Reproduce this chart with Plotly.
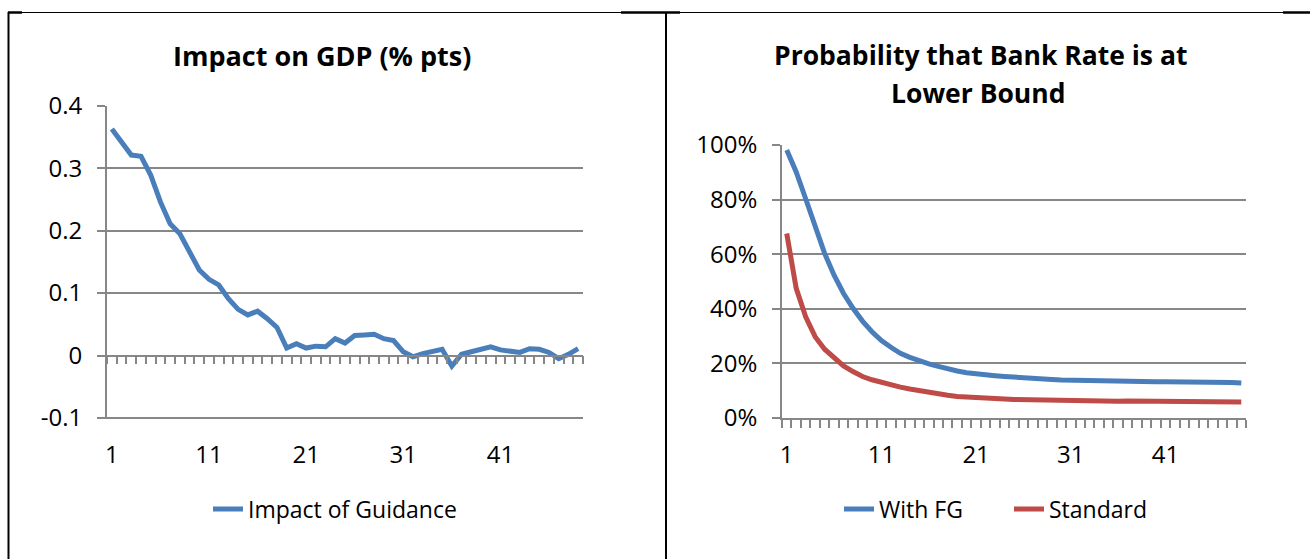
import plotly.graph_objects as go

W, H = 1310, 559

periods = list(range(1, 50))
impact_of_guidance = [
    0.3625, 0.342, 0.321, 0.319, 0.289, 0.246, 0.211, 0.195, 0.168, 0.137,
    0.122, 0.113, 0.091, 0.074, 0.065, 0.071, 0.059, 0.045, 0.012, 0.019,
    0.012, 0.015, 0.014, 0.027, 0.020, 0.032, 0.033, 0.034, 0.027, 0.024,
    0.006, -0.002, 0.003, 0.007, 0.010, -0.017, 0.002, 0.006, 0.011, 0.014,
    0.009, 0.006, 0.005, 0.011, 0.010, 0.005, -0.005, 0.002, 0.011,
]
with_fg = [
    0.982, 0.901, 0.803, 0.700, 0.603, 0.523, 0.456, 0.402, 0.355, 0.316,
    0.284, 0.259, 0.237, 0.222, 0.209, 0.198, 0.189, 0.179, 0.172, 0.166,
    0.161, 0.158, 0.155, 0.152, 0.149, 0.147, 0.145, 0.143, 0.141, 0.139,
    0.138, 0.137, 0.136, 0.135, 0.135, 0.134, 0.134, 0.134, 0.133, 0.133,
    0.133, 0.133, 0.132, 0.132, 0.132, 0.131, 0.131, 0.130, 0.128,
]
standard = [
    0.676, 0.475, 0.371, 0.298, 0.252, 0.219, 0.191, 0.170, 0.152, 0.140,
    0.130, 0.120, 0.113, 0.106, 0.100, 0.094, 0.086, 0.083, 0.079, 0.078,
    0.075, 0.074, 0.072, 0.070, 0.068, 0.067, 0.066, 0.065, 0.064, 0.063,
    0.063, 0.062, 0.061, 0.061, 0.062, 0.061, 0.062, 0.062, 0.063, 0.063,
    0.063, 0.062, 0.062, 0.062, 0.062, 0.061, 0.061, 0.060, 0.059,
]
x_tick_vals = [1, 11, 21, 31, 41]
x_tick_text = ["1", "11", "21", "31", "41"]
left_y_ticks = [-0.1, 0, 0.1, 0.2, 0.3, 0.4]
left_y_text = ["-0.1", "0", "0.1", "0.2", "0.3", "0.4"]
right_y_ticks = [0, 0.2, 0.4, 0.6, 0.8, 1.0]
right_y_text = ["0%", "20%", "40%", "60%", "80%", "100%"]

BLUE = "#4A7EBB"
RED = "#BE4B48"
GRID = "#878787"
FONT = "Open Sans"


def px(x):
    return x / W


def py(y):
    return 1 - y / H


fig = go.Figure()
fig.add_trace(go.Scatter(x=periods, y=impact_of_guidance, mode="lines",
                         name="Impact of Guidance", line=dict(color=BLUE, width=5),
                         xaxis="x", yaxis="y", legend="legend"))
fig.add_trace(go.Scatter(x=periods, y=with_fg, mode="lines", name="With FG",
                         line=dict(color=BLUE, width=5), xaxis="x2", yaxis="y2",
                         legend="legend2"))
fig.add_trace(go.Scatter(x=periods, y=standard, mode="lines", name="Standard",
                         line=dict(color=RED, width=5), xaxis="x2", yaxis="y2",
                         legend="legend2"))

minor_vals = [p - 0.5 for p in periods] + [periods[-1] + 0.5]

# left plot: y range padded a hair below -0.1 so the -0.1 gridline is kept
left_yr = [-0.102, 0.4]
left_top, left_bot = 105.7, 418.0
left_bot_px = left_bot + (left_bot - left_top) * 0.002 / 0.5
left_dom_x = [px(107), px(583)]
left_dom_y = [py(left_bot_px), py(left_top)]
right_dom_x = [px(782), px(1246)]
right_dom_y = [py(418), py(145)]
zero_pos = left_dom_y[0] + (0 - left_yr[0]) / (left_yr[1] - left_yr[0]) * (
    left_dom_y[1] - left_dom_y[0])

tickfont = dict(family=FONT, size=24, color="black")
xr = [0.5, 49.5]
minor_ticks = dict(tickmode="array", tickvals=minor_vals, ticks="outside",
                   ticklen=8, tickcolor=GRID, tickwidth=1.5, showgrid=False)

common_x = dict(range=xr, tickmode="array", tickvals=x_tick_vals, ticktext=x_tick_text,
                showgrid=False, zeroline=False, ticks="", tickfont=tickfont,
                showline=True, linecolor=GRID, linewidth=1.7, minor=minor_ticks)
common_y = dict(showline=True, linecolor=GRID, linewidth=1.7, ticks="outside", ticklen=8,
                tickcolor=GRID, tickwidth=1.7, showgrid=True, gridcolor=GRID,
                gridwidth=1.7, tickfont=tickfont, ticklabelstandoff=10, zeroline=False,
                automargin=False)

fig.update_layout(
    width=W, height=H, margin=dict(l=0, r=0, t=0, b=0, pad=0, autoexpand=False),
    paper_bgcolor="white", plot_bgcolor="white",
    font=dict(family=FONT, color="black"),
    xaxis=dict(domain=left_dom_x, anchor="free", position=zero_pos,
               ticklabelstandoff=78, automargin=False, **common_x),
    yaxis=dict(domain=left_dom_y, anchor="x", range=left_yr, tickmode="array",
               tickvals=left_y_ticks, ticktext=left_y_text, **common_y),
    xaxis2=dict(domain=right_dom_x, anchor="y2", ticklabelstandoff=14,
                automargin=False, **common_x),
    yaxis2=dict(domain=right_dom_y, anchor="x2", range=[0, 1.0], tickmode="array",
                tickvals=right_y_ticks, ticktext=right_y_text, **common_y),
    legend=dict(x=px(208), y=py(509), xanchor="left", yanchor="middle",
                orientation="h", font=dict(family=FONT, size=23, color="black"),
                bgcolor="rgba(0,0,0,0)", itemwidth=30),
    legend2=dict(x=px(839), y=py(509), xanchor="left", yanchor="middle",
                 orientation="h", font=dict(family=FONT, size=23, color="black"),
                 bgcolor="rgba(0,0,0,0)", itemwidth=30, entrywidth=125),
    showlegend=True,
)

fig.add_annotation(x=px(322), y=py(56), xref="paper", yref="paper", showarrow=False,
                   text="<b>Impact on GDP (% pts)</b>",
                   font=dict(family=FONT, size=27, color="black"),
                   xanchor="center", yanchor="middle")
fig.add_annotation(x=px(981), y=py(55), xref="paper", yref="paper", showarrow=False,
                   text="<b>Probability that Bank Rate is at</b>",
                   font=dict(family=FONT, size=26.5, color="black"),
                   xanchor="center", yanchor="middle")
fig.add_annotation(x=px(978), y=py(93), xref="paper", yref="paper", showarrow=False,
                   text="<b>Lower Bound</b>",
                   font=dict(family=FONT, size=26.5, color="black"),
                   xanchor="center", yanchor="middle")


# table border decoration
def seg(x0, y0, x1, y1, w):
    fig.add_shape(type="line", xref="paper", yref="paper", x0=px(x0), y0=py(y0),
                  x1=px(x1), y1=py(y1), line=dict(color="black", width=w))


seg(8, 12.5, 1310, 12.5, 1)
seg(8, 12.5, 22, 12.5, 2.5)
seg(621, 12.5, 680, 12.5, 2.5)
seg(1283, 12.5, 1310, 12.5, 2.5)
seg(8.5, 12, 8.5, 559, 2)
seg(666, 12, 666, 559, 2)

fig.write_html("out.html")
